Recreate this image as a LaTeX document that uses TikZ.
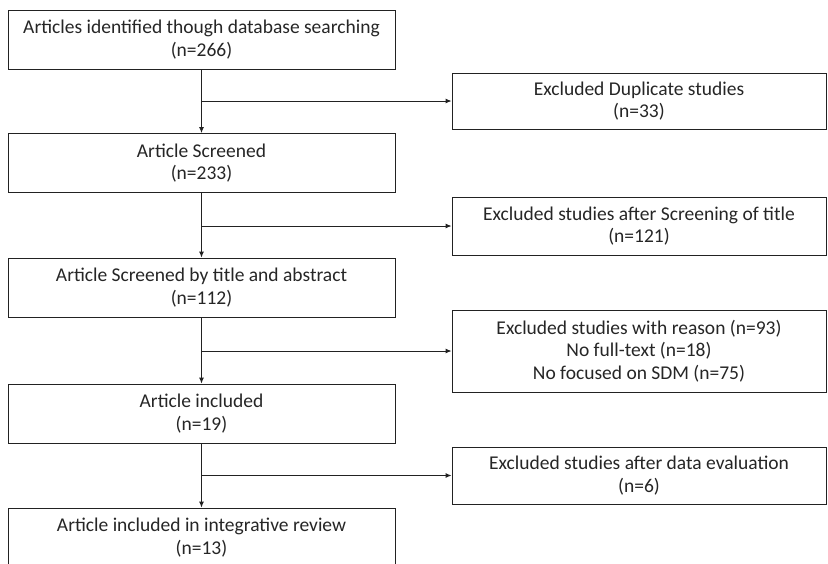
\documentclass[tikz,border=0pt]{standalone}
\usepackage{fontspec}
\setmainfont{Carlito}
\usetikzlibrary{arrows.meta}
\definecolor{txt}{HTML}{262626}
\definecolor{ln}{HTML}{222222}
\tikzset{
  box/.style={draw=ln, line width=0.9pt, rectangle, inner sep=0pt, align=center,
    text=txt, font=\fontsize{19.5}{22.5}\selectfont},
  lbox/.style={box, minimum width=387pt, minimum height=59pt},
  rbox/.style={box, minimum width=374pt},
  arr/.style={draw=ln, line width=0.9pt, -{Latex[length=6pt,width=5pt]}}
}
\begin{document}
\begin{tikzpicture}[x=1pt,y=-1pt]
\useasboundingbox (0,0) rectangle (828,563);
\clip (0,0) rectangle (828,563);
\fill[white] (0,0) rectangle (828,563);
\node[lbox] (b1) at (201.5,39.5) {Articles identified though database searching\\(n=266)};
\node[lbox] (b2) at (201.5,163) {Article Screened\\(n=233)};
\node[lbox] (b3) at (201.5,287.5) {Article Screened by title and abstract\\(n=112)};
\node[lbox] (b4) at (201.5,413.5) {Article included\\(n=19)};
\node[lbox] (b5) at (201.5,537.5) {Article included in integrative review\\(n=13)};
\node[rbox, minimum height=56pt] (r1) at (639,101) {Excluded Duplicate studies\\(n=33)};
\node[rbox, minimum height=58pt] (r2) at (639,226) {Excluded studies after Screening of title\\(n=121)};
\node[rbox, minimum height=82pt] (r3) at (639,351) {Excluded studies with reason (n=93)\\No full-text (n=18)\\No focused on SDM (n=75)};
\node[rbox, minimum height=57pt] (r4) at (639,475.5) {Excluded studies after data evaluation\\(n=6)};
\draw[arr] (b1.south) -- (b2.north);
\draw[arr] (b2.south) -- (b3.north);
\draw[arr] (b3.south) -- (b4.north);
\draw[arr] (b4.south) -- (b5.north);
\draw[arr] (b1.south |- r1.west) -- (r1.west);
\draw[arr] (b2.south |- r2.west) -- (r2.west);
\draw[arr] (b3.south |- r3.west) -- (r3.west);
\draw[arr] (b4.south |- r4.west) -- (r4.west);
\end{tikzpicture}
\end{document}
